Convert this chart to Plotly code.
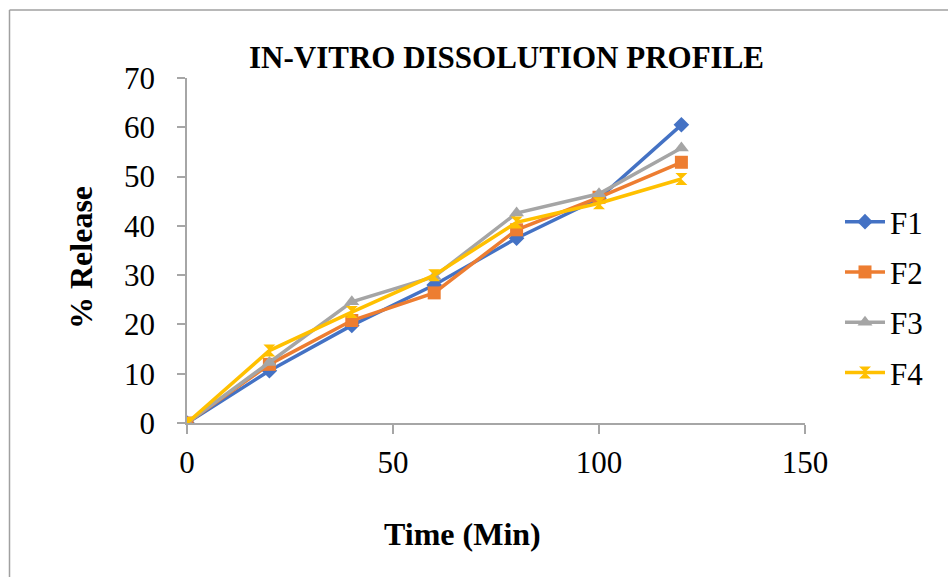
import plotly.graph_objects as go

# Dissolution time points (minutes)
time_min = [0, 20, 40, 60, 80, 100, 120]

# Cumulative % drug release per formulation
f1 = [0, 10.6, 19.8, 28.0, 37.5, 45.6, 60.5]
f2 = [0, 11.9, 20.8, 26.4, 39.2, 45.8, 52.9]
f3 = [0, 12.3, 24.6, 29.7, 42.6, 46.5, 55.8]
f4 = [0, 14.7, 22.5, 30.0, 40.7, 44.6, 49.5]

series_names = ["F1", "F2", "F3", "F4"]
series_values = [f1, f2, f3, f4]
colors = ["#4472C4", "#ED7D31", "#A5A5A5", "#FFC000"]
symbols = ["diamond", "square", "triangle-up", "hourglass"]
marker_sizes = [12, 13, 13, 12]

x_ticks = [0, 50, 100, 150]
y_ticks = [0, 10, 20, 30, 40, 50, 60, 70]

FONT = "Liberation Serif, Times New Roman, serif"
AXIS_GREY = "#A6A6A6"

fig = go.Figure()
for name, vals, col, sym, ms in zip(series_names, series_values, colors, symbols, marker_sizes):
    fig.add_trace(go.Scatter(
        x=time_min, y=vals, name=name, legendgroup=name,
        mode="lines+markers",
        line=dict(color=col, width=3.5),
        marker=dict(symbol=sym, size=ms, color=col, line=dict(width=0)),
    ))

W, H = 948, 577
L, R, T, B = 187, 143, 78, 154
pw, ph = W - L - R, H - T - B

def px_x(p):
    return (p - L) / pw

def px_y(p):
    return (H - B - p) / ph

fig.update_layout(
    width=W, height=H,
    margin=dict(l=L, r=R, t=T, b=B, autoexpand=False),
    paper_bgcolor="white", plot_bgcolor="white",
    font=dict(family=FONT, color="black", size=31),
    showlegend=True,
    legend=dict(
        x=px_x(840), y=px_y(195), xanchor="left", yanchor="top",
        font=dict(family=FONT, size=31, color="black"),
        tracegroupgap=7, itemwidth=40,
        bgcolor="rgba(0,0,0,0)",
    ),
    xaxis=dict(
        range=[0, 150], tickvals=x_ticks, showgrid=False, zeroline=False,
        showline=True, linecolor=AXIS_GREY, linewidth=1.5,
        ticks="outside", ticklen=9, tickcolor=AXIS_GREY, tickwidth=1.5,
        tickfont=dict(family=FONT, size=31, color="black"),
        ticklabelstandoff=2,
    ),
    yaxis=dict(
        range=[0, 70], tickvals=y_ticks, showgrid=False, zeroline=False,
        showline=True, linecolor=AXIS_GREY, linewidth=1.5,
        ticks="outside", ticklen=8, tickcolor=AXIS_GREY, tickwidth=1.5,
        tickfont=dict(family=FONT, size=31, color="black"),
        ticklabelstandoff=16,
    ),
    annotations=[
        dict(text="<b>IN-VITRO DISSOLUTION PROFILE</b>", xref="paper", yref="paper",
             x=px_x(506), y=px_y(58), xanchor="center", yanchor="middle",
             showarrow=False, font=dict(family=FONT, size=31, color="black")),
        dict(text="<b>Time (Min)</b>", xref="paper", yref="paper",
             x=px_x(462), y=px_y(534), xanchor="center", yanchor="middle",
             showarrow=False, font=dict(family=FONT, size=32, color="black")),
        dict(text="<b>% Release</b>", xref="paper", yref="paper",
             x=px_x(81), y=px_y(258), xanchor="center", yanchor="middle",
             textangle=-90, showarrow=False,
             font=dict(family=FONT, size=32, color="black")),
    ],
    shapes=[
        dict(type="line", xref="paper", yref="paper",
             x0=px_x(9.5), x1=px_x(W + 5), y0=px_y(10), y1=px_y(10),
             line=dict(color="#A0A0A0", width=1.5)),
        dict(type="line", xref="paper", yref="paper",
             x0=px_x(9.5), x1=px_x(9.5), y0=px_y(10), y1=px_y(H + 5),
             line=dict(color="#A0A0A0", width=1.5)),
    ],
)

fig.write_html("out.html")
